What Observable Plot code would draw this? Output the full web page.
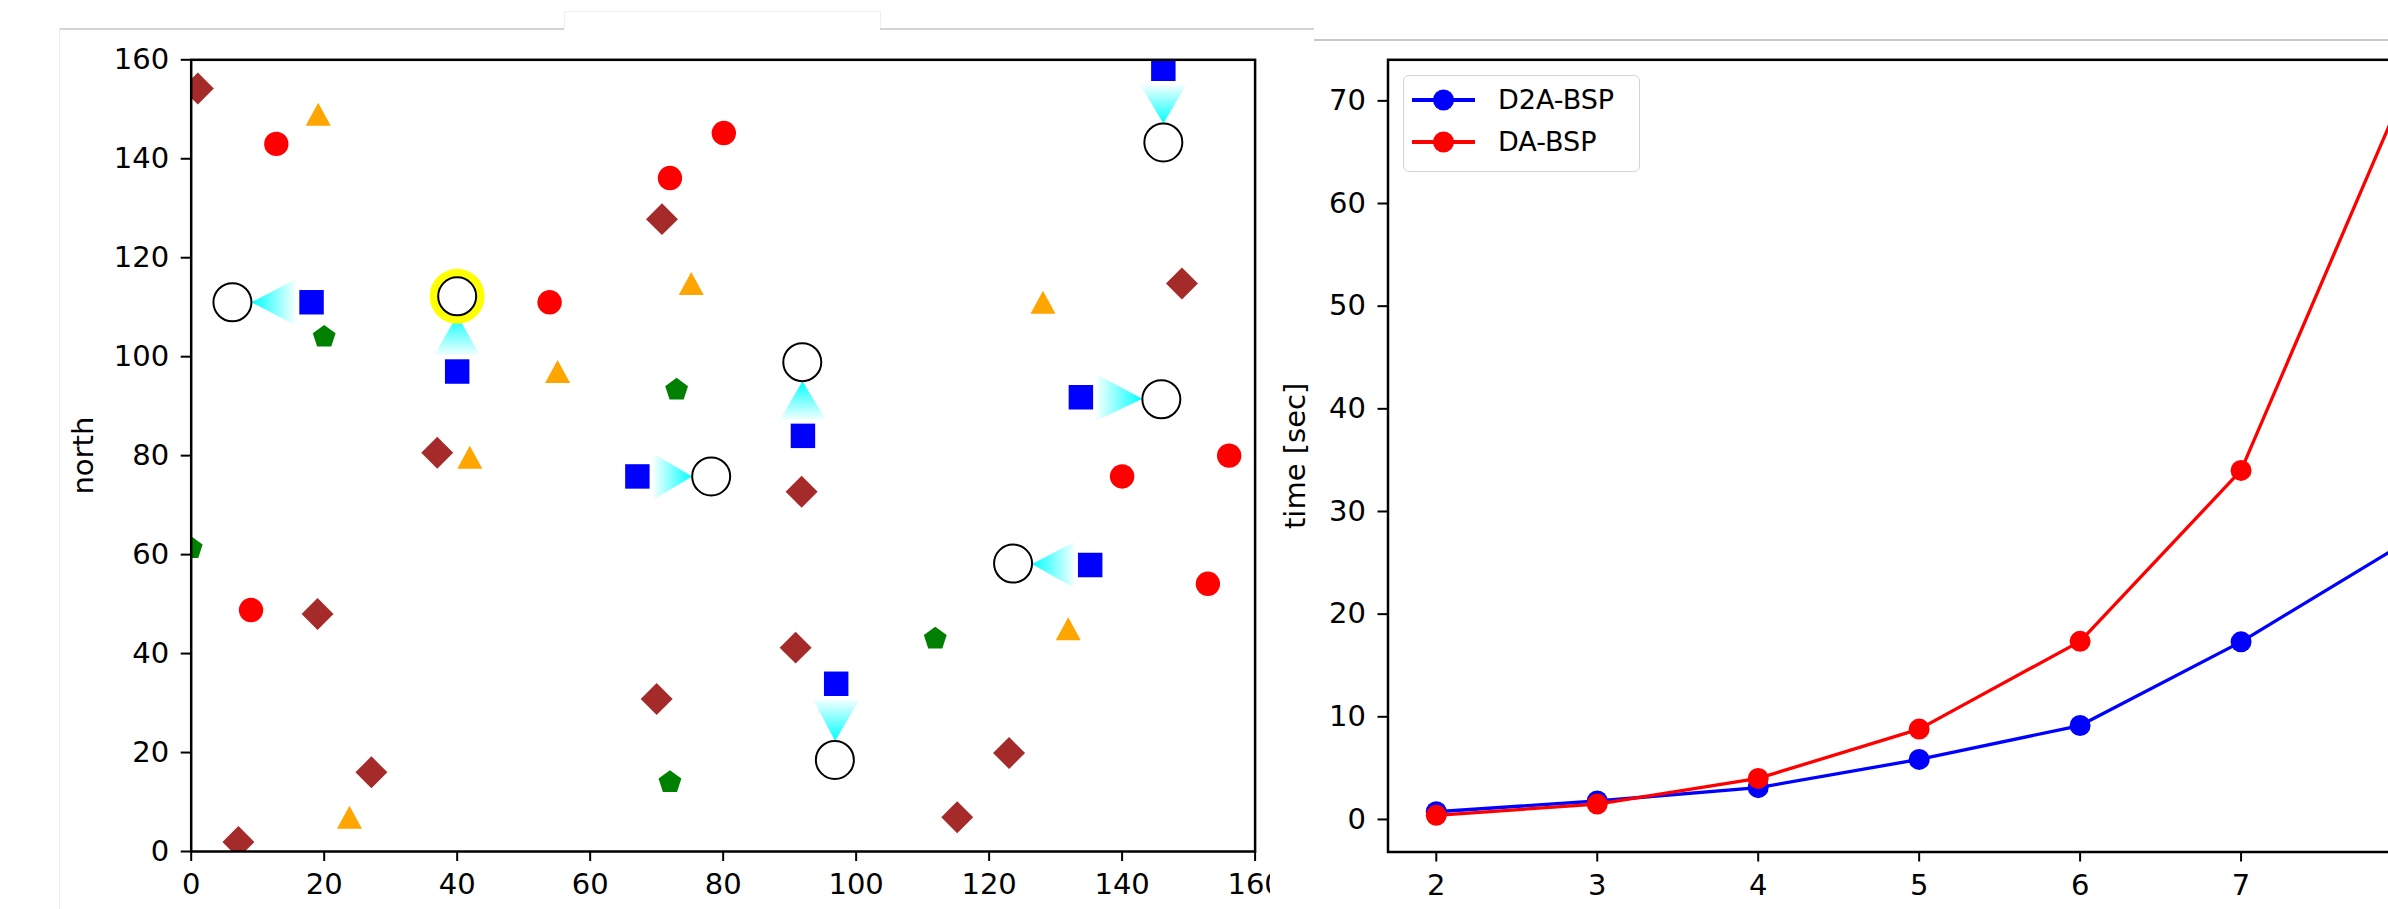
<!DOCTYPE html>
<html><head><meta charset="utf-8">
<script src="https://cdn.jsdelivr.net/npm/d3@7"></script>
<script src="https://cdn.jsdelivr.net/npm/@observablehq/plot@0.6"></script>
<style>
html,body{margin:0;padding:0;background:#fff;overflow:hidden;width:2388px;height:909px;}
#stage{position:relative;width:2388px;height:909px;overflow:hidden;font-family:"DejaVu Sans",sans-serif;color:#000;}
#left{position:absolute;left:0;top:0;width:1270px;height:909px;overflow:hidden;}
#right{position:absolute;left:1270px;top:0;width:1118px;height:909px;overflow:hidden;}
.gl{position:absolute;}
#legend{position:absolute;left:1403px;top:75px;width:235px;height:95px;border:1.5px solid #d4d4d4;border-radius:6px;background:rgba(255,255,255,0.85);}
.lrow{position:absolute;left:0;height:30px;width:235px;}
.lrow svg{position:absolute;left:7px;top:0;}
.lrow span{position:absolute;left:94px;top:0;line-height:30px;font-size:27px;font-family:"DejaVu Sans",sans-serif;color:#000;white-space:nowrap;}
</style></head>
<body>
<svg width="0" height="0" style="position:absolute">
  <defs>
    <linearGradient id="gR" x1="0" y1="0" x2="1" y2="0"><stop offset="0" stop-color="#00ffff" stop-opacity="0.04"/><stop offset="1" stop-color="#00ffff" stop-opacity="1"/></linearGradient>
    <linearGradient id="gL" x1="1" y1="0" x2="0" y2="0"><stop offset="0" stop-color="#00ffff" stop-opacity="0.04"/><stop offset="1" stop-color="#00ffff" stop-opacity="1"/></linearGradient>
    <linearGradient id="gD" x1="0" y1="0" x2="0" y2="1"><stop offset="0" stop-color="#00ffff" stop-opacity="0.04"/><stop offset="1" stop-color="#00ffff" stop-opacity="1"/></linearGradient>
    <linearGradient id="gU" x1="0" y1="1" x2="0" y2="0"><stop offset="0" stop-color="#00ffff" stop-opacity="0.04"/><stop offset="1" stop-color="#00ffff" stop-opacity="1"/></linearGradient>
  </defs>
</svg>
<div id="stage">
  <div id="left"></div>
  <div id="right"></div>
  <div class="gl" style="left:59px;top:28px;width:505px;height:1.5px;background:#d4d4d4"></div>
  <div class="gl" style="left:564px;top:11px;width:316px;height:1px;background:#efefef"></div>
  <div class="gl" style="left:564px;top:11px;width:1px;height:18px;background:#efefef"></div>
  <div class="gl" style="left:880px;top:11px;width:1px;height:18px;background:#efefef"></div>
  <div class="gl" style="left:880px;top:28px;width:434px;height:1.5px;background:#d4d4d4"></div>
  <div class="gl" style="left:1314px;top:39px;width:1074px;height:1.5px;background:#c8c8c8"></div>
  <div class="gl" style="left:59px;top:29px;width:1px;height:880px;background:#ededed"></div>
  <div id="legend"></div>
</div>
<script>
// ---------- Left chart data (east vs north) ----------
const xTicksLeft = [0, 20, 40, 60, 80, 100, 120, 140, 160];
const yTicksLeft = [0, 20, 40, 60, 80, 100, 120, 140, 160];
const yLabelLeft = "north";

const diamondX = [1, 70.8, 149, 37, 91.8, 19, 90.9, 70, 27.1, 123, 7.1, 115.2];
const diamondY = [154.2, 127.8, 114.8, 80.6, 72.7, 48, 41.2, 30.8, 16, 19.9, 1.9, 6.9];

const redX = [12.8, 80.1, 72, 53.9, 156.1, 140, 152.9, 9];
const redY = [143, 145.2, 136.1, 111, 80, 75.8, 54.1, 48.8];

const orangeX = [19.1, 75.2, 128.1, 55.1, 41.9, 131.9, 23.8];
const orangeY = [149, 114.8, 111, 97, 79.7, 45, 6.9];

const greenX = [20, 73, 0, 111.9, 72];
const greenY = [104, 93.3, 61.3, 43, 14];

const blueX = [146.2, 18.1, 40, 92, 133.8, 67.1, 135.2, 97];
const blueY = [158.2, 111, 97, 84, 91.8, 75.8, 57.9, 33.9];

const goalX = [146.2, 6.2, 40, 91.9, 145.9, 78.2, 123.6, 96.8];
const goalY = [143.3, 111, 112.2, 98.9, 91.4, 75.8, 58.2, 18.5];

const highlightX = [40];
const highlightY = [112.2];

// ---------- Right chart data (time vs n) ----------
const nValues = [2, 3, 4, 5, 6, 7, 8];
const d2aTime = [0.75, 1.8, 3.1, 5.85, 9.15, 17.3, 26.8];
const daTime = [0.4, 1.5, 4.0, 8.8, 17.35, 34.0, 70.5];
const seriesNames = ["D2A-BSP", "DA-BSP"];
const seriesColors = ["#0000ff", "#ff0000"];
const xTicksRight = [2, 3, 4, 5, 6, 7, 8];
const yTicksRight = [0, 10, 20, 30, 40, 50, 60, 70];
const yLabelRight = "time [sec]";

// ---------- custom symbols ----------
const triangleSym = {draw(ctx, size) {
  const r = Math.sqrt(size / Math.PI);
  const w = r, h = r * 0.92;
  ctx.moveTo(0, -h); ctx.lineTo(w, h); ctx.lineTo(-w, h); ctx.closePath();
}};
const pentagonSym = {draw(ctx, size) {
  const r = Math.sqrt(size / Math.PI);
  for (let k = 0; k < 5; k++) {
    const a = (-90 + 72 * k) * Math.PI / 180;
    const px = r * Math.cos(a), py = r * Math.sin(a);
    if (k === 0) ctx.moveTo(px, py); else ctx.lineTo(px, py);
  }
  ctx.closePath();
}};

// arrow-triangle "curve": base near square, tip at the goal circle's edge
function arrowCurve(context) {
  let pts = [];
  return {
    lineStart() { pts = []; },
    point(x, y) { pts.push([x, y]); },
    lineEnd() {
      if (pts.length < 2) return;
      const [[x1, y1], [x2, y2]] = pts;
      const dx = x2 - x1, dy = y2 - y1, L = Math.hypot(dx, dy);
      const ux = dx / L, uy = dy / L, px = -uy, py = ux;
      const b = 16, t = L - 19, hw = 23;
      context.moveTo(x1 + ux * b + px * hw, y1 + uy * b + py * hw);
      context.lineTo(x1 + ux * t, y1 + uy * t);
      context.lineTo(x1 + ux * b - px * hw, y1 + uy * b - py * hw);
      context.closePath();
    },
    areaStart() {}, areaEnd() {}
  };
}

const pairs = blueX.map((x, i) => ({x1: x, y1: blueY[i], x2: goalX[i], y2: goalY[i]}));
function dirOf(p) {
  const dx = p.x2 - p.x1, dy = p.y2 - p.y1;
  if (Math.abs(dx) > Math.abs(dy)) return dx > 0 ? "R" : "L";
  return dy > 0 ? "U" : "D";
}
const idx = a => a.map((_, i) => i);
const intFmt = d => String(d);

const commonStyle = {maxWidth: "none", background: "transparent", fontFamily: "DejaVu Sans", fontSize: "29px", color: "black"};

const left = Plot.plot({
  width: 1270, height: 909,
  marginLeft: 190.7, marginRight: 15.4, marginTop: 59.3, marginBottom: 58,
  style: commonStyle,
  x: {domain: [0, 160]},
  y: {domain: [0, 160]},
  marks: [
    Plot.dot(idx(diamondX), {x: i => diamondX[i], y: i => diamondY[i], symbol: "diamond2", r: 14.4, fill: "#a52a2a", stroke: "none", clip: true}),
    Plot.dot(idx(redX), {x: i => redX[i], y: i => redY[i], symbol: "circle", r: 12.2, fill: "#ff0000", stroke: "none", clip: true}),
    Plot.dot(idx(orangeX), {x: i => orangeX[i], y: i => orangeY[i], symbol: triangleSym, r: 12.5, fill: "#ffa500", stroke: "none", clip: true}),
    Plot.dot(idx(greenX), {x: i => greenX[i], y: i => greenY[i], symbol: pentagonSym, r: 12, fill: "#008000", stroke: "none", clip: true}),
    Plot.dot(idx(blueX), {x: i => blueX[i], y: i => blueY[i], symbol: "square", r: 13.8, fill: "#0000ff", stroke: "none", clip: true}),
    ...["R", "L", "U", "D"].map(d => Plot.link(pairs.filter(p => dirOf(p) === d), {
      x1: "x1", y1: "y1", x2: "x2", y2: "y2", curve: arrowCurve,
      fill: `url(#g${d})`, stroke: "none", clip: true
    })),
    Plot.dot(idx(highlightX), {x: i => highlightX[i], y: i => highlightY[i], r: 27.5, fill: "#ffff00", stroke: "none", clip: true}),
    Plot.dot(idx(goalX), {x: i => goalX[i], y: i => goalY[i], r: 19, fill: "white", stroke: "black", strokeWidth: 2, clip: true}),
    Plot.frame({stroke: "black", strokeWidth: 2.5}),
    Plot.axisX(xTicksLeft, {tickSize: 10, tickPadding: 12, strokeWidth: 2, fontSize: 29, label: null, tickFormat: intFmt}),
    Plot.axisY(yTicksLeft, {tickSize: 10, tickPadding: 12, strokeWidth: 2, fontSize: 29, label: null, tickFormat: intFmt}),
    Plot.text([yLabelLeft], {text: d => d, frameAnchor: "left", dx: -107.7, rotate: -90, fontSize: 29, textAnchor: "middle", lineAnchor: "middle", fill: "black"})
  ]
});
document.getElementById("left").append(left);

const seriesData = [d2aTime, daTime];
const rightMarks = [];
seriesData.forEach((vals, s) => {
  rightMarks.push(Plot.line(idx(nValues), {x: i => nValues[i], y: i => vals[i], stroke: seriesColors[s], strokeWidth: 3.3, strokeLinejoin: "round"}));
  rightMarks.push(Plot.dot(idx(nValues), {x: i => nValues[i], y: i => vals[i], r: 10.5, fill: seriesColors[s], stroke: "none"}));
});

const right = Plot.plot({
  width: 1230, height: 909,
  marginLeft: 117.5, marginRight: 50.2, marginTop: 59.3, marginBottom: 57.5,
  style: commonStyle,
  x: {domain: [1.7, 8.3]},
  y: {domain: [-3.17, 74.0]},
  marks: [
    ...rightMarks,
    Plot.frame({stroke: "black", strokeWidth: 2.5}),
    Plot.axisX(xTicksRight, {tickSize: 10, tickPadding: 12, strokeWidth: 2, fontSize: 29, label: null, tickFormat: intFmt}),
    Plot.axisY(yTicksRight, {tickSize: 10, tickPadding: 12, strokeWidth: 2, fontSize: 29, label: null, tickFormat: intFmt}),
    Plot.text([yLabelRight], {text: d => d, frameAnchor: "left", dx: -92.5, rotate: -90, fontSize: 29, textAnchor: "middle", lineAnchor: "middle", fill: "black"})
  ]
});
document.getElementById("right").append(right);

// legend
const legend = document.getElementById("legend");
seriesNames.forEach((name, s) => {
  const row = document.createElement("div");
  row.className = "lrow";
  row.style.top = (s === 0 ? 8.5 : 51) + "px";
  const ns = "http://www.w3.org/2000/svg";
  const svg = document.createElementNS(ns, "svg");
  svg.setAttribute("width", 66); svg.setAttribute("height", 30);
  const ln = document.createElementNS(ns, "line");
  ln.setAttribute("x1", 1); ln.setAttribute("x2", 64); ln.setAttribute("y1", 15); ln.setAttribute("y2", 15);
  ln.setAttribute("stroke", seriesColors[s]); ln.setAttribute("stroke-width", 4);
  const c = document.createElementNS(ns, "circle");
  c.setAttribute("cx", 32.5); c.setAttribute("cy", 15); c.setAttribute("r", 10.5); c.setAttribute("fill", seriesColors[s]);
  svg.append(ln, c);
  const sp = document.createElement("span");
  sp.textContent = name;
  row.append(svg, sp);
  legend.append(row);
});
</script>
</body></html>
